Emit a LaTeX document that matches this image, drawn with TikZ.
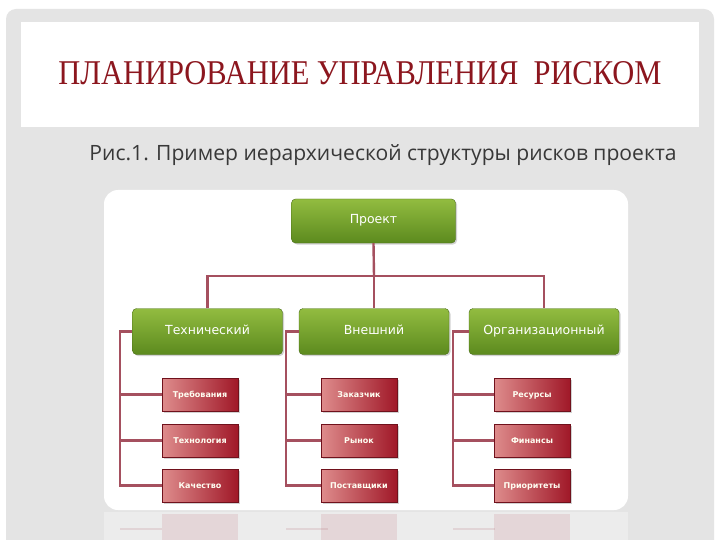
\documentclass[tikz,border=0pt]{standalone}
\usepackage{fontspec}
\setmainfont{Liberation Serif}
\newfontfamily\boxfont{DejaVu Sans}
\newfontfamily\capfont{Open Sans}
\usetikzlibrary{shadows}

\definecolor{slidegray}{RGB}{228,228,228}
\definecolor{titlered}{RGB}{140,22,30}
\definecolor{greentop}{RGB}{146,188,64}
\definecolor{greenbot}{RGB}{92,138,30}
\definecolor{redlight}{RGB}{222,140,140}
\definecolor{reddark}{RGB}{160,24,40}
\definecolor{linkred}{RGB}{165,80,95}

\tikzset{
  greenbox/.style={rounded corners=4pt, minimum width=150pt, minimum height=46pt,
    top color=greentop, bottom color=greenbot, draw=greenbot!80!black, line width=0.4pt,
    drop shadow={opacity=0.35, shadow xshift=1.5pt, shadow yshift=-1.5pt},
    text height=1.6ex, text depth=0.3ex,
    text=white, font=\boxfont\fontsize{12.5}{14}\selectfont},
  redbox/.style={minimum width=76pt, minimum height=33pt,
    left color=redlight, right color=reddark, draw=reddark!70!black, line width=0.3pt,
    drop shadow={opacity=0.35, shadow xshift=1.5pt, shadow yshift=-1.5pt},
    text height=1.6ex, text depth=0.3ex,
    text=white!95!yellow, font=\boxfont\bfseries\fontsize{8}{10}\selectfont},
  link/.style={draw=linkred, line width=2.4pt},
}

\begin{document}
\begin{tikzpicture}[x=1pt, y=-1pt]
\useasboundingbox (0,0) rectangle (720,540);
\clip (0,0) rectangle (720,540);
% slide background
\fill[white] (0,0) rectangle (720,540);
\fill[slidegray, rounded corners=10pt] (6,9) rectangle (714,580);
\fill[white] (21,22) rectangle (699,127);
\node (title) at (360,73) {\resizebox{603pt}{23pt}{\color{titlered}ПЛАНИРОВАНИЕ УПРАВЛЕНИЯ\ \ РИСКОМ}};
\node (caption) at (383,155) {\resizebox{587pt}{!}{\color{black!78}\capfont Рис.1. Пример иерархической структуры рисков проекта}};
% white panel and its reflection
\fill[white, rounded corners=14pt] (104,190) rectangle (628,510);
\fill[white, opacity=0.3] (104,512) rectangle (628,540);
\foreach \xl in {162,321,494}
  \fill[reddark, opacity=0.1] (\xl,514) rectangle ++(76,26);
\foreach \xs in {120,286,453}
  \fill[linkred, opacity=0.15] (\xs,528) rectangle ++(42,2.4);

% nodes
\node[greenbox, minimum width=164pt, minimum height=44pt] (proj) at (373.5,221) {Проект};
\node[greenbox] (tech) at (207.5,331.5) {Технический};
\node[greenbox] (ext) at (374,331.5) {Внешний};
\node[greenbox] (org) at (544,331.5) {Организационный};

\node[redbox] (t1) at (200,394.5) {Требования};
\node[redbox] (t2) at (200,440.5) {Технология};
\node[redbox] (t3) at (200,485.5) {Качество};
\node[redbox] (e1) at (359,394.5) {Заказчик};
\node[redbox] (e2) at (359,440.5) {Рынок};
\node[redbox] (e3) at (359,485.5) {Поставщики};
\node[redbox] (o1) at (532,394.5) {Ресурсы};
\node[redbox] (o2) at (532,440.5) {Финансы};
\node[redbox] (o3) at (532,485.5) {Приоритеты};

% connectors
\coordinate (bus) at (374,276);
\coordinate (tspine) at (120,0);
\coordinate (espine) at (286,0);
\coordinate (ospine) at (453,0);
\draw[link] (proj.south) -- (bus);
\draw[link] (tech.north) |- (bus) -| (org.north);
\draw[link] (bus) -- (ext.north);
\draw[link] (tech.west) -| (tspine |- t3.west) -- (t3.west);
\draw[link] (t1.west) -- (t1.west -| tspine);
\draw[link] (t2.west) -- (t2.west -| tspine);
\draw[link] (ext.west) -| (espine |- e3.west) -- (e3.west);
\draw[link] (e1.west) -- (e1.west -| espine);
\draw[link] (e2.west) -- (e2.west -| espine);
\draw[link] (org.west) -| (ospine |- o3.west) -- (o3.west);
\draw[link] (o1.west) -- (o1.west -| ospine);
\draw[link] (o2.west) -- (o2.west -| ospine);
\end{tikzpicture}
\end{document}
